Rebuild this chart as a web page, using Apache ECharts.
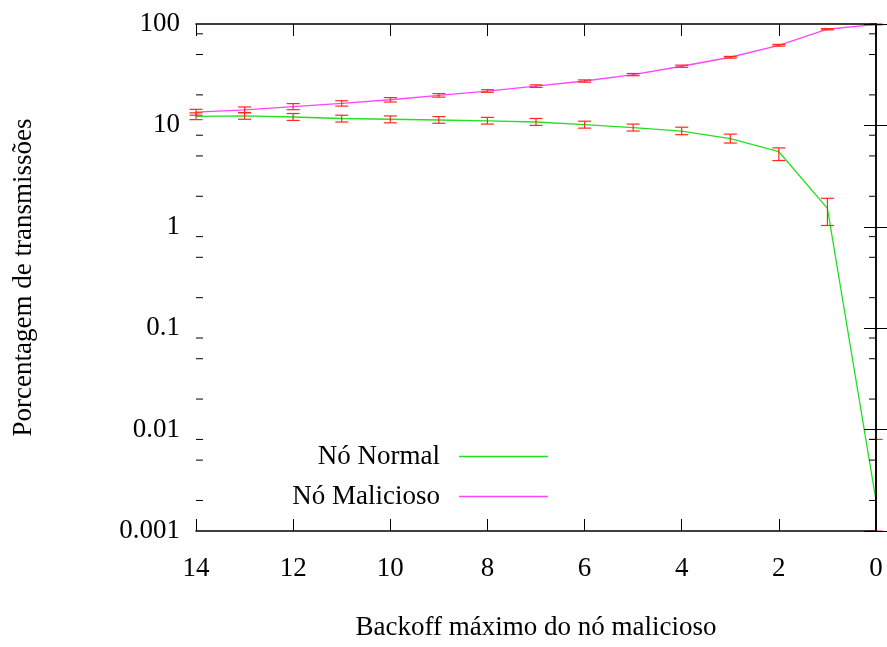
<!DOCTYPE html>
<html><head><meta charset="utf-8">
<script src="https://cdn.jsdelivr.net/npm/echarts@6/dist/echarts.min.js"></script>
<style>html,body{margin:0;padding:0;background:#fff}#c{width:887px;height:647px}</style>
</head><body><div id="c"></div>
<script>
const backoff = [14,13,12,11,10,9,8,7,6,5,4,3,2,1,0];
const normal = [12.3,12.4,12.1,11.7,11.5,11.3,11.1,10.8,10.2,9.5,8.8,7.4,5.5,1.52,0.002];
const normalLow = [11.4,11.5,11.2,10.8,10.6,10.5,10.3,10.0,9.4,8.8,8.1,6.7,4.5,1.03,0.001];
const normalHigh = [13.3,13.4,13.1,12.6,12.4,12.2,12.0,11.7,11.0,10.3,9.6,8.2,6.0,1.91,0.008];
const malicious = [13.5,14.2,15.3,16.5,17.9,19.8,21.8,24.4,27.4,31.7,38.3,47.0,61.7,88.8,99.0];
const maliciousLow = [12.6,13.3,14.3,15.5,17.0,19.0,21.2,23.7,26.7,30.9,37.4,46.1,60.5,87.5,98.0];
const maliciousHigh = [14.4,15.2,16.4,17.5,18.8,20.6,22.5,25.1,28.1,32.5,39.3,47.9,62.9,90.1,100];
const yMinorTicks = [0.002,0.005,0.008,0.02,0.05,0.08,0.2,0.5,0.8,2,5,8,20,50,80];
const seriesNames = ['Nó Normal','Nó Malicioso'];
const xTitle = 'Backoff máximo do nó malicioso';
const yTitle = 'Porcentagem de transmissões';

const FONT = 'Liberation Serif';
const FS = 27;
const chart = echarts.init(document.getElementById('c'), null, {renderer:'canvas'});

function errorBars(id, low, high) {
  return {
    type: 'custom', name: id, silent: true, z: 4,
    data: backoff.map((x, i) => [x, low[i], high[i]]),
    encode: {x: 0, y: [1, 2]},
    renderItem(params, api) {
      const x = api.value(0);
      const p1 = api.coord([x, api.value(1)]);
      const p2 = api.coord([x, api.value(2)]);
      const hw = 6.5;
      const style = {stroke: '#ff2a1a', lineWidth: 1.2};
      return {type: 'group', children: [
        {type: 'line', shape: {x1: p1[0], y1: p1[1], x2: p2[0], y2: p2[1]}, style},
        {type: 'line', shape: {x1: p1[0]-hw, y1: p1[1], x2: p1[0]+hw, y2: p1[1]}, style},
        {type: 'line', shape: {x1: p2[0]-hw, y1: p2[1], x2: p2[0]+hw, y2: p2[1]}, style}
      ]};
    }
  };
}

const minorTickSeries = {
  type: 'custom', name: 'minor-ticks', silent: true, z: 6,
  data: yMinorTicks.map(v => [14, v]),
  encode: {x: 0, y: 1},
  renderItem(params, api) {
    const v = api.value(1);
    const l = api.coord([14, v]);
    const r = api.coord([0, v]);
    const style = {stroke: '#000', lineWidth: 1};
    return {type: 'group', children: [
      {type: 'line', shape: {x1: l[0], y1: l[1], x2: l[0]+7, y2: l[1]}, style},
      {type: 'line', shape: {x1: r[0]-7, y1: r[1], x2: r[0], y2: r[1]}, style}
    ]};
  }
};

const axisLine = {show: true, lineStyle: {color: '#000', width: 1.5}};
const legendBase = {
  orient: 'horizontal', align: 'right', right: 339, padding: 0,
  icon: 'rect', itemWidth: 89, itemHeight: 1.4, selectedMode: false,
  textStyle: {fontFamily: FONT, fontSize: FS, color: '#000', padding: [0, 14, 0, 0]}
};

chart.setOption({
  animation: false,
  backgroundColor: '#fff',
  grid: {left: 196, right: 11, top: 24, bottom: 116},
  legend: [
    Object.assign({}, legendBase, {data: [seriesNames[0]], top: 443}),
    Object.assign({}, legendBase, {data: [seriesNames[1]], top: 483})
  ],
  xAxis: [{
    type: 'value', min: 0, max: 14, interval: 2, inverse: true, position: 'bottom', z: 5,
    name: xTitle, nameLocation: 'middle', nameGap: 83,
    nameTextStyle: {fontFamily: FONT, fontSize: FS, color: '#000'},
    axisLine, axisTick: {inside: true, length: 12, lineStyle: {color: '#000', width: 1}},
    axisLabel: {fontFamily: FONT, fontSize: FS, color: '#000', margin: 24},
    splitLine: {show: false}
  }, {
    type: 'value', min: 0, max: 14, interval: 2, inverse: true, position: 'top', z: 5,
    axisLine, axisTick: {inside: true, length: 12, lineStyle: {color: '#000', width: 1}},
    axisLabel: {show: false}, splitLine: {show: false}
  }],
  yAxis: [{
    type: 'log', logBase: 10, min: 0.001, max: 100, position: 'left', z: 5,
    name: yTitle, nameLocation: 'middle', nameGap: 159, nameRotate: 90,
    nameTextStyle: {fontFamily: FONT, fontSize: FS, color: '#000'},
    axisLine, axisTick: {inside: true, length: 12, lineStyle: {color: '#000', width: 1}},
    axisLabel: {fontFamily: FONT, fontSize: FS, color: '#000', margin: 16,
      formatter: v => String(Number(Number(v).toPrecision(6)))},
    splitLine: {show: false}, minorTick: {show: false}
  }, {
    type: 'log', logBase: 10, min: 0.001, max: 100, position: 'right', z: 5,
    axisLine, axisTick: {inside: true, length: 12, lineStyle: {color: '#000', width: 1}},
    axisLabel: {show: false}, splitLine: {show: false}
  }],
  series: [
    {type: 'line', name: seriesNames[0], data: backoff.map((x, i) => [x, normal[i]]),
     symbol: 'none', silent: true, z: 3,
     lineStyle: {color: '#22e022', width: 1.3}, itemStyle: {color: '#22e022'}},
    {type: 'line', name: seriesNames[1], data: backoff.map((x, i) => [x, malicious[i]]),
     symbol: 'none', silent: true, z: 3,
     lineStyle: {color: '#ff44ff', width: 1.3}, itemStyle: {color: '#ff44ff'}},
    errorBars('err-normal', normalLow, normalHigh),
    errorBars('err-malicious', maliciousLow, maliciousHigh),
    minorTickSeries
  ]
});
</script>
</body></html>
